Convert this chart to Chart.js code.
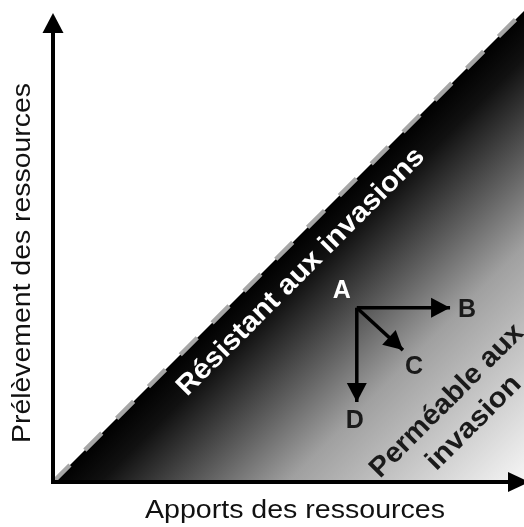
<!DOCTYPE html>
<html>
<head>
<meta charset="utf-8">
<script src="https://cdn.jsdelivr.net/npm/chart.js@4"></script>
<style>
  html, body { margin: 0; padding: 0; background: #fff; }
  canvas { display: block; }
</style>
</head>
<body>
<canvas id="schema" width="524" height="527"></canvas>
<script>
// limite entre les deux zones : prélèvement = apports
const limitX = [0, 100];
const limitY = [0, 100];

// point de départ A et extrémités des flèches B, C, D
const pointLabels = ['A', 'B', 'C', 'D'];
const pointX = [64.5, 84.3, 74.3, 64.5];
const pointY = [37, 37, 28, 17];

const xTitle = 'Apports des ressources';
const yTitle = 'Prélèvement des ressources';
const zoneTop = 'Résistant aux invasions';
const zoneBottom = ['Perméable aux', 'invasion'];

const FONT = '"Liberation Sans", Arial, sans-serif';

function toPoints(xs, ys) {
  return xs.map((x, i) => ({ x: x, y: ys[i] }));
}

function arrowHead(ctx, x0, y0, x1, y1, len, half) {
  const a = Math.atan2(y1 - y0, x1 - x0);
  ctx.save();
  ctx.translate(x1, y1);
  ctx.rotate(a);
  ctx.beginPath();
  ctx.moveTo(0, 0);
  ctx.lineTo(-len, -half);
  ctx.lineTo(-len, half);
  ctx.closePath();
  ctx.fill();
  ctx.restore();
}

// texte étiré pour occuper une longueur donnée
function fitText(ctx, text, cx, cy, angle, font, length, color) {
  ctx.save();
  ctx.font = font;
  ctx.fillStyle = color;
  ctx.textAlign = 'center';
  ctx.textBaseline = 'middle';
  ctx.translate(cx, cy);
  ctx.rotate(angle);
  const w = ctx.measureText(text).width;
  ctx.scale(length / w, 1);
  ctx.fillText(text, 0, 0);
  ctx.restore();
}

const schemaPlugin = {
  id: 'schema',
  afterDatasetsDraw(chart) {
    const ctx = chart.ctx;
    const xs = chart.scales.x, ys = chart.scales.y;
    const ox = xs.getPixelForValue(0), oy = ys.getPixelForValue(0);

    // axes avec flèches
    ctx.save();
    ctx.strokeStyle = '#000';
    ctx.fillStyle = '#000';
    ctx.lineWidth = 4;
    ctx.beginPath();
    ctx.moveTo(ox, oy + 2);
    ctx.lineTo(ox, 30);
    ctx.moveTo(ox - 2, oy);
    ctx.lineTo(510, oy);
    ctx.stroke();
    arrowHead(ctx, ox, oy, ox, 13, 20, 10.5);
    arrowHead(ctx, ox, oy, 529, oy, 21, 10);

    // pointes des flèches A -> B, C, D
    const ax = xs.getPixelForValue(pointX[0]), ay = ys.getPixelForValue(pointY[0]);
    for (let i = 1; i < pointX.length; i++) {
      const px = xs.getPixelForValue(pointX[i]), py = ys.getPixelForValue(pointY[i]);
      arrowHead(ctx, ax, ay, px, py, 19, 10);
    }

    // lettres
    ctx.font = 'bold 25px ' + FONT;
    ctx.textAlign = 'center';
    ctx.textBaseline = 'middle';
    const offs = [[-15, -17], [17, 2], [11, 17], [-2, 19]];
    pointLabels.forEach((lab, i) => {
      const px = xs.getPixelForValue(pointX[i]), py = ys.getPixelForValue(pointY[i]);
      ctx.fillStyle = i === 0 ? '#fff' : '#1a1a1a';
      ctx.fillText(lab, px + offs[i][0], py + offs[i][1]);
    });
    ctx.restore();

    const q = -Math.PI / 4;
    fitText(ctx, zoneTop, 301, 272, q, 'bold 28px ' + FONT, 338, '#fff');
    fitText(ctx, zoneBottom[0], 447, 401, q, 'bold 28px ' + FONT, 205, '#1a1a1a');
    fitText(ctx, zoneBottom[1], 474, 423, q, 'bold 28px ' + FONT, 122, '#1a1a1a');

    fitText(ctx, xTitle, 295, 511, 0, '26px ' + FONT, 300, '#111');
    fitText(ctx, yTitle, 23, 263, -Math.PI / 2, '26px ' + FONT, 360, '#111');
  }
};

const arrowSets = [1, 2, 3].map(i => ({
  data: toPoints([pointX[0], pointX[i]], [pointY[0], pointY[i]]),
  showLine: true,
  borderColor: '#000',
  borderWidth: 3.5,
  pointRadius: 0,
  fill: false,
  clip: false,
  order: 0
}));

new Chart(document.getElementById('schema'), {
  type: 'scatter',
  data: {
    datasets: [{
      data: toPoints(limitX, limitY),
      showLine: true,
      pointRadius: 0,
      borderColor: '#a6a6a6',
      borderWidth: 4.5,
      borderDash: [24, 21],
      fill: 'origin',
      clip: 6,
      order: 1,
      backgroundColor: (c) => {
        const a = c.chart.chartArea;
        if (!a) return '#444';
        const mx = (a.left + a.right) / 2, my = (a.top + a.bottom) / 2;
        const g = c.chart.ctx.createLinearGradient(mx, my, a.right, a.bottom);
        g.addColorStop(0, '#000');
        g.addColorStop(0.1, '#111');
        g.addColorStop(0.5, '#a0a0a0');
        g.addColorStop(1, '#f6f6f6');
        return g;
      }
    }, ...arrowSets]
  },
  options: {
    responsive: false,
    animation: false,
    layout: { padding: { left: 53, right: 0, top: 11, bottom: 45 } },
    scales: {
      x: { display: false, min: 0, max: 100 },
      y: { display: false, min: 0, max: 100 }
    },
    plugins: {
      legend: { display: false },
      tooltip: { enabled: false }
    }
  },
  plugins: [schemaPlugin]
});
</script>
</body>
</html>
